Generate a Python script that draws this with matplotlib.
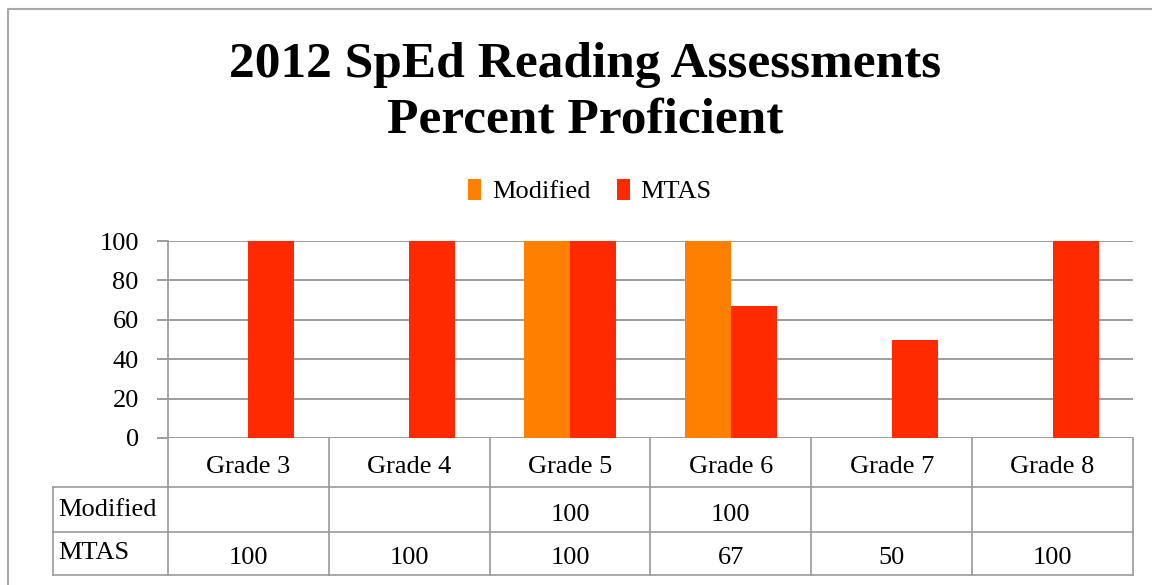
import numpy as np
import matplotlib
matplotlib.use("Agg")
import matplotlib.pyplot as plt
from matplotlib.transforms import blended_transform_factory
from matplotlib.lines import Line2D

# data
grades = ["Grade 3", "Grade 4", "Grade 5", "Grade 6", "Grade 7", "Grade 8"]
modified = [np.nan, np.nan, 100, 100, np.nan, np.nan]
mtas = [100, 100, 100, 67, 50, 100]
series_names = ["Modified", "MTAS"]
yticks = [0, 20, 40, 60, 80, 100]

COL_MOD = "#ff7f00"
COL_MTAS = "#ff2a00"
GRID = "#8c8c8c"
LINE = "#9a9a9a"
W, H = 1152, 585


def fmt(v):
    if np.isnan(v):
        return ""
    return str(int(v))


def main():
    plt.rcParams["font.family"] = ["Liberation Serif", "DejaVu Serif"]
    fig = plt.figure(figsize=(W / 100, H / 100), dpi=100)

    # outer frame of the chart box (only top and left edges are visible)
    fig.lines.append(Line2D([8 / W, 8 / W, 1.0], [0.0, 1 - 9 / H, 1 - 9 / H],
                            transform=fig.transFigure, color="#a8a8a8", lw=1.5))

    # plot area in pixels: left 168, right 1133, top 241, bottom 438
    ax = fig.add_axes([168 / W, (H - 438) / H, (1133 - 168) / W, (438 - 241) / H])

    x = np.arange(len(grades))
    w = 0.286
    ax.bar(x - w / 2, modified, w, color=COL_MOD, label=series_names[0], zorder=3)
    ax.bar(x + w / 2, mtas, w, color=COL_MTAS, label=series_names[1], zorder=3)

    ax.set_xlim(-0.5, len(grades) - 0.5)
    ax.set_ylim(0, 100)
    ax.set_yticks(yticks)
    ax.set_xticks([])
    ax.tick_params(axis="y", length=8, width=1.2, color=GRID, pad=13, labelsize=19)
    ax.yaxis.grid(True, color=GRID, lw=1.2, zorder=0)
    for s in ["top", "right", "bottom"]:
        ax.spines[s].set_visible(False)
    ax.spines["left"].set_color(LINE)
    ax.spines["left"].set_linewidth(1.2)

    # data table under the plot
    tr = blended_transform_factory(ax.transData, ax.transAxes)
    ph = 438 - 241
    y_head = -(487 - 438) / ph
    y_mod = -(532 - 438) / ph
    y_mtas = -(575 - 438) / ph
    x_left = -0.5 - (168 - 53) / 161.0
    x_right = len(grades) - 0.5

    for b in np.arange(len(grades) + 1) - 0.5:
        ax.plot([b, b], [0, y_mtas], transform=tr, color=LINE, lw=1.2, clip_on=False)
    ax.plot([x_left, x_left], [y_head, y_mtas], transform=tr, color=LINE, lw=1.2, clip_on=False)
    for yy in [y_head, y_mod, y_mtas]:
        ax.plot([x_left, x_right], [yy, yy], transform=tr, color=LINE, lw=1.2, clip_on=False)

    def ypx(p):
        return -(p - 438) / ph

    for i, g in enumerate(grades):
        ax.text(i, ypx(467), g, transform=tr, ha="center", va="center", fontsize=19)
        ax.text(i, ypx(515), fmt(modified[i]), transform=tr,
                ha="center", va="center", fontsize=19)
        ax.text(i, ypx(558), fmt(mtas[i]), transform=tr,
                ha="center", va="center", fontsize=19)
    ax.text(x_left + 0.03, ypx(510), series_names[0], transform=tr,
            ha="left", va="center", fontsize=19)
    ax.text(x_left + 0.03, ypx(553), series_names[1], transform=tr,
            ha="left", va="center", fontsize=19)

    # title and legend
    fig.text(585 / W, 1 - 93 / H, "2012 SpEd Reading Assessments\nPercent Proficient",
             ha="center", va="center", fontsize=37, fontweight="bold", linespacing=1.27)
    fig.legend(loc="center", bbox_to_anchor=(590 / W, 1 - 191 / H), ncol=2,
               frameon=False, fontsize=19, handlelength=0.5, handleheight=0.85,
               handletextpad=0.4, columnspacing=1.0)

    fig.savefig("out.png", dpi=100)


if __name__ == "__main__":
    main()
